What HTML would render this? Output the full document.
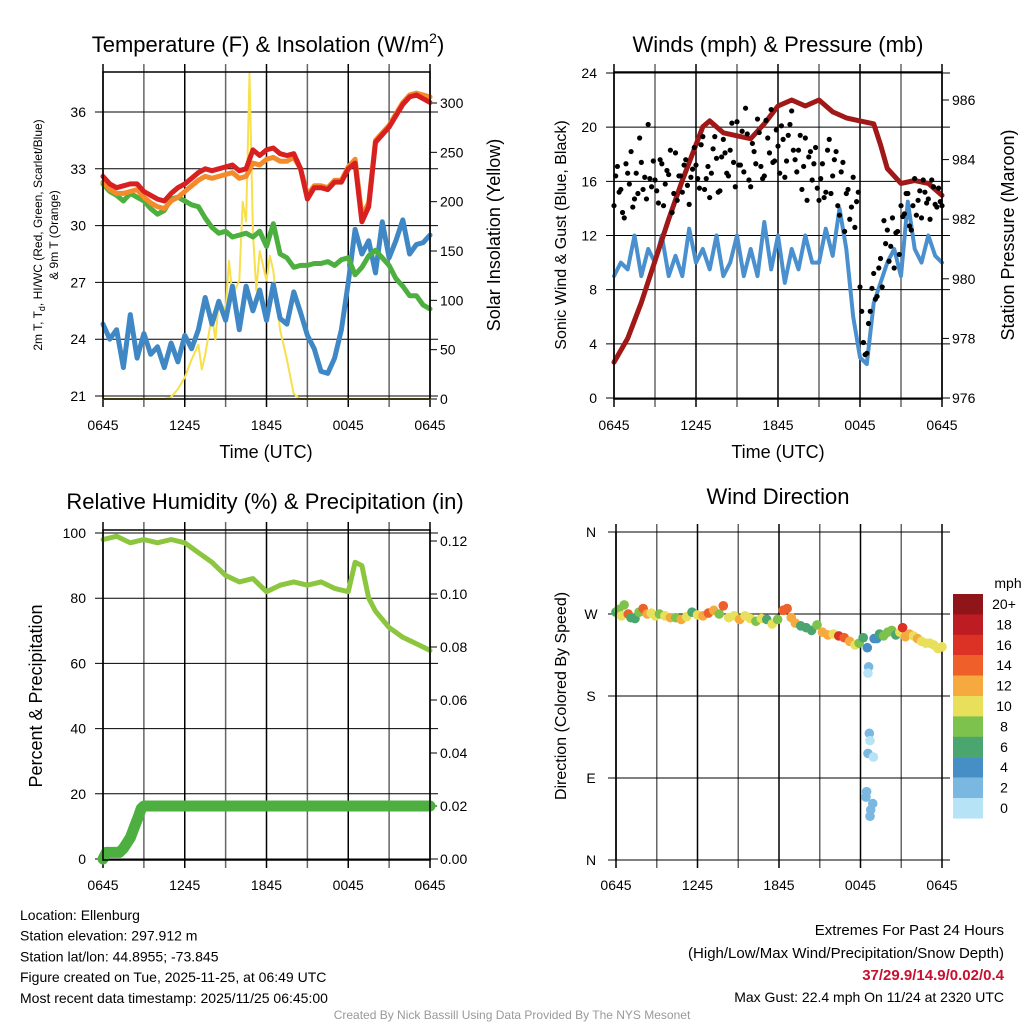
<!DOCTYPE html>
<html><head><meta charset="utf-8"><style>
html,body{margin:0;padding:0;background:#fff;width:1024px;height:1024px;overflow:hidden}
svg{font-family:"Liberation Sans",sans-serif}
</style></head><body>
<svg id="c" width="1024" height="1024" xmlns="http://www.w3.org/2000/svg"></svg>
<script>
// ---------- DATA ----------
const timeLabels = ["0645","1245","1845","0045","0645"];
const halfHours = [0,0.5,1,1.5,2,2.5,3,3.5,4,4.5,5,5.5,6,6.5,7,7.5,8,8.5,9,9.5,10,10.5,11,11.5,12,12.5,13,13.5,14,14.5,15,15.5,16,16.5,17,17.5,18,18.5,19,19.5,20,20.5,21,21.5,22,22.5,23,23.5,24];
const tempRed = [32.6,32.2,32.0,32.1,32.2,32.2,31.8,31.6,31.4,31.3,31.7,32.0,32.2,32.5,32.8,33.0,32.9,33.0,33.1,33.2,32.9,33.0,34.0,33.7,34.0,34.1,33.8,33.7,33.8,33.0,31.4,32.0,32.0,31.9,32.3,32.3,33.0,33.3,30.2,31.0,34.4,34.8,35.2,35.8,36.4,36.8,36.9,36.7,36.5];
const temp9m = [32.3,31.9,31.7,31.7,31.8,31.9,31.5,31.2,31.0,30.9,31.3,31.5,31.8,32.1,32.4,32.6,32.5,32.6,32.7,32.8,32.5,32.6,33.3,33.2,33.5,33.6,33.4,33.4,33.6,33.0,31.6,32.1,32.1,32.0,32.4,32.4,33.1,33.5,30.5,31.2,34.5,34.9,35.3,35.9,36.5,36.9,37.0,36.9,36.8];
const heatIndex = [32.2,31.8,31.6,31.3,31.7,31.5,31.3,30.9,30.6,30.8,31.4,31.5,31.3,31.1,31.0,30.4,29.9,29.6,29.7,29.4,29.5,29.6,29.4,29.7,28.9,30.1,28.5,28.3,27.8,27.9,27.9,28.0,28.0,28.1,27.9,28.2,28.3,27.4,27.8,28.4,28.7,28.3,27.9,27.2,26.8,26.3,26.3,25.8,25.6];
const dewpoint = [24.8,24.0,24.5,22.5,25.3,23.0,24.3,23.2,23.6,22.5,23.8,22.8,24.2,23.5,24.5,26.2,24.8,26.0,25.0,26.8,24.5,26.8,25.5,26.6,25.0,26.9,25.1,24.8,26.5,25.4,24.2,23.5,22.3,22.2,23.0,24.5,27.0,29.8,28.5,29.2,27.5,30.2,28.3,29.2,30.3,28.5,29.0,29.1,29.5];
const solarTimes = [0,4.5,5,5.5,6,6.5,7,7.25,7.5,8,8.25,8.5,9,9.25,9.5,10,10.25,10.5,10.75,11,11.25,11.5,12,12.25,12.5,13,13.5,14,14.5,24];
const solarVals  = [0,0,2,10,22,40,55,30,45,85,60,100,90,140,105,120,200,180,330,170,110,150,120,145,130,70,40,5,0,0];
const pressTimes = [0,1,2,3,4,5,6,6.5,7,8,9,10,11,12,13,14,15,16,17,18,19,19.5,20,21,22,23,24];
const pressVals  = [977.2,978.0,979.2,980.6,982.0,983.3,984.5,985.1,985.3,984.9,984.8,984.7,985.2,985.8,986.0,985.8,986.0,985.6,985.4,985.3,985.2,984.5,983.7,983.2,983.3,983.2,982.8];
const windSpeed = [9,10,9.5,12,9,11,10,12,9,10.5,9,12.5,10,11,9.5,12,9,10,12,9,11,9,13,9.5,12,8.5,11,9.5,12,10,10,12.5,10.5,14,11,6,3,2.5,7,8.5,10,11,9,14.5,11,10,12,10.5,10];
const gustA = [14.2,17.1,15.4,13.3,16.6,18.2,14.7,15.1,17.4,16.3,20.2,15.6,16.1,14.4,17.3,15.8,16.5,13.7,18.1,16.4,15.2,17.6,14.3,16.9,17.2,15.5,19.3,16.2,14.8,18.4,17.7,15.3,19.1,16.6,18.3,17.4,20.4,17.2,16.7,19.5,15.6,18.2,20.6,17.1,16.4,19.2,21.3,17.5,18.6,20.1,16.3,19.4,21.2,17.6,18.3,15.4,19.2,17.8,16.1,18.5,14.6,17.3,15.2,19.1,16.4,18.2,13.5,17.4,15.1,13.2,16.3,14.5,8.2,4.1,3.3,6.4,9.2,7.5,10.3,13.1,12.4,11.2,9.6,12.3,14.2,13.6,15.1,12.4,16.2,14.6,13.3,15.2,14.7,16.1,14.3,15.5,14.2];
const gustB = [16.4,15.2,13.7,17.3,15.8,14.1,16.6,19.2,15.4,14.7,16.2,17.5,15.3,17.6,14.2,16.8,18.3,15.1,14.6,16.4,17.2,15.7,16.3,18.5,16.2,18.7,15.4,17.1,16.6,19.3,15.2,17.8,18.1,16.4,20.3,15.6,17.2,19.7,21.4,16.1,18.8,17.3,19.6,16.2,20.5,18.1,17.4,19.8,16.6,19.1,17.5,20.2,18.3,16.7,19.4,17.1,14.6,18.2,17.3,15.5,16.2,14.8,18.3,15.1,17.6,14.2,16.7,12.3,15.4,14.1,12.6,15.2,6.4,3.2,5.5,8.1,7.3,9.6,8.2,11.4,10.1,13.3,12.2,10.6,13.4,15.1,12.7,14.2,13.5,15.3,16.1,14.4,13.2,15.6,14.1,14.5];
const rhTimes = [0,1,2,3,4,5,6,7,8,9,10,11,12,13,14,15,16,17,18,18.5,19,19.5,20,21,22,23,24];
const rhVals  = [98,99,97,98,97,98,97,94,91,87,85,86,82,84,85,84,85,83,82,91,90,80,76,71,68,66,64];
const precipTimes = [0,0.25,1.2,1.5,2,2.3,2.6,2.8,3.0,24];
const precipVals  = [0,0.0025,0.0025,0.004,0.008,0.012,0.016,0.019,0.02,0.02];
const dirTimes  = [0,0.2,0.4,0.6,0.9,1.1,1.4,1.7,2.0,2.3,2.6,2.9,3.2,3.6,4.0,4.4,4.8,5.2,5.6,6.0,6.4,6.8,7.2,7.6,7.9,8.3,8.7,9.1,9.5,9.9,10.3,10.7,11.1,11.5,11.9,12.3,12.6,12.9,13.2,13.6,14.0,14.4,14.8,15.2,15.6,16.0,16.4,16.8,17.2,17.6,17.9,18.2,18.5,18.6,18.55,18.65,18.7,18.55,18.95,18.45,18.4,18.9,18.75,18.7,19.0,19.2,19.4,19.7,20.0,20.3,20.6,20.9,21.1,21.3,21.6,21.9,22.2,22.5,22.8,23.1,23.4,23.7,24.0];
const dirVals   = [272,275,268,280,270,266,265,272,276,270,271,268,270,268,266,266,264,267,272,269,268,271,274,270,279,266,268,264,268,265,262,265,264,259,264,274,276,266,260,257,255,252,258,250,247,248,246,244,240,236,238,244,233,212,205,139,131,117,113,75,69,62,55,48,243,243,248,246,250,252,247,250,255,245,248,246,243,240,238,238,236,232,234];
const dirSpeeds = [7,8,10,9,14,7,7,8,14,12,10,10,9,10,12,8,12,10,6,10,12,14,12,8,14,10,11,12,10,10,8,10,7,10,9,14,15,12,12,7,6,6,8,12,12,10,16,14,12,10,8,6,4,3,1,2,1,2,1,2,2,2,2,2,4,4,6,8,8,9,7,10,16,12,12,10,12,10,10,10,10,10,11];
const speedLabels = ["20+","18","16","14","12","10","8","6","4","2","0"];
const speedColors = ["#8f1518","#bd1c22","#dc3226","#ef5f29","#f6a93f","#e8e05a","#7cc24c","#4aa66e","#468fc6","#7ab8e2","#b7e3f6"];

// ---------- HELPERS ----------
const svg = document.getElementById('c');
const NS = 'http://www.w3.org/2000/svg';
function mk(tag, attrs, parent){ const e=document.createElementNS(NS,tag); for(const k in attrs) e.setAttribute(k,attrs[k]); (parent||svg).appendChild(e); return e; }
function txt(x,y,s,size,anchor,extra){ const e=mk('text',Object.assign({x:x,y:y,'font-size':size,'text-anchor':anchor||'middle',fill:'#000'},extra||{})); e.textContent=s; return e; }
function lin(d0,d1,r0,r1){ return v => r0 + (v-d0)*(r1-r0)/(d1-d0); }
function pathD(xs,ys,fx,fy){ return xs.map((t,i)=>(i?'L':'M')+fx(t).toFixed(1)+','+fy(ys[i]).toFixed(1)).join(''); }

function frame(L,R,T,B,name){
  const g = mk('g',{});
  
  
  for(let h=0;h<=24;h+=3){
    const x = L + h*(R-L)/24;
    mk('line',{x1:x,y1:T-8,x2:x,y2:B+8,stroke:(h%6===0?'#000':'#666'),'stroke-width':1.5},g);
  }
  return g;
}
function hgrid(L,R,y,g){ mk('line',{x1:L-8,y1:y,x2:R+8,y2:y,stroke:'#000','stroke-width':1},g); }
function box(L,R,T,B,name){ const r=mk('rect',{x:L,y:T,width:R-L,height:B-T,fill:'none',stroke:'#000','stroke-width':1.5});
  
   }
function xlabels(L,R,y){ timeLabels.forEach((s,i)=>{ const t=txt(L+i*(R-L)/4,y,s,14);
  
   }); }
function rot(x,y,s,size,name){ const t=txt(x,y,s,size,'middle',{transform:'rotate(-90 '+x+' '+y+')'});
  
   return t; }
function line(d,color,w,name){ const p=mk('path',{d:d,fill:'none',stroke:color,'stroke-width':w,'stroke-linejoin':'round','stroke-linecap':'round'});
  
   return p; }

// ---------- PANEL 1: Temperature ----------
{
  const L=103,R=430,T=72,B=399;
  const fx = lin(0,24,L,R), fy = lin(21,36,396,112), fs = lin(0,300,399,103);
  const g = frame(L,R,T,B,'temperature');
  [21,24,27,30,33,36].forEach(v=>{ hgrid(L,R,fy(v),g); const t=txt(86,fy(v)+5,String(v),14,'end');
    
     });
  [0,50,100,150,200,250,300].forEach(v=>{ mk('line',{x1:R,y1:fs(v),x2:R+7,y2:fs(v),stroke:'#000'}); const t=txt(440,fs(v)+5,String(v),14,'start');
    
     });
  line(pathD(solarTimes,solarVals,fx,fs),'#f7e04b',2,'solar-insolation-line');
  line(pathD(halfHours,dewpoint,fx,fy),'#3f88c5',5,'dewpoint-line');
  line(pathD(halfHours,heatIndex,fx,fy),'#4caf3f',5,'heat-index-line');
  line(pathD(halfHours,temp9m,fx,fy),'#f58a2b',5,'temp-9m-line');
  line(pathD(halfHours,tempRed,fx,fy),'#d92020',5,'temp-2m-line');
  box(L,R,T,B,'temperature');
  xlabels(L,R,430);
  const tt=txt(268,52,'Temperature (F) & Insolation (W/m',22); const sp=mk('tspan',{dy:-9,'font-size':14},tt); sp.textContent='2'; const sp2=mk('tspan',{dy:9},tt); sp2.textContent=')';
  
  
  const xt=txt(266,458,'Time (UTC)',18);
  
  
  const yt=rot(42,235,'2m T, T',12,'temperature-y-title');
  const sb=mk('tspan',{dy:3,'font-size':9},yt); sb.textContent='d';
  const sr=mk('tspan',{dy:-3},yt); sr.textContent=', HI/WC (Red, Green, Scarlet/Blue)';
  rot(58,235,'& 9m T (Orange)',12,'temperature-y-title-2');
  rot(500,235,'Solar Insolation (Yellow)',18,'solar-y-title');
}

// ---------- PANEL 2: Winds ----------
{
  const L=614,R=942,T=72,B=399;
  const fx = lin(0,24,L,R), fy = lin(0,24,398,73), fp = lin(976,986,398,100);
  const g = frame(L,R,T,B,'winds');
  [0,4,8,12,16,20,24].forEach(v=>{ hgrid(L,R,fy(v),g); const t=txt(597,fy(v)+5,String(v),14,'end');
    
     });
  [976,978,980,982,984,986].forEach(v=>{ mk('line',{x1:R,y1:fp(v),x2:R+7,y2:fp(v),stroke:'#000'}); const t=txt(952,fp(v)+5,String(v),14,'start');
    
     });
  line(pathD(halfHours,windSpeed,fx,fy),'#4a90cf',4,'wind-speed-line');
  line(pathD(pressTimes,pressVals,fx,fp),'#a01818',5,'pressure-line');
  gustA.forEach((v,i)=>{ const c=mk('circle',{cx:fx(i*0.25),cy:fy(v),r:2.6,fill:'#000'});
    
     });
  gustB.forEach((v,i)=>{ const c=mk('circle',{cx:fx(i*0.25+0.125),cy:fy(v),r:2.6,fill:'#000'});
    
     });
  box(L,R,T,B,'winds');
  xlabels(L,R,430);
  const tt=txt(778,52,'Winds (mph) & Pressure (mb)',22);
  
  
  const xt=txt(778,458,'Time (UTC)',18);
  
  
  rot(566,235,'Sonic Wind & Gust (Blue, Black)',16,'wind-y-title');
  rot(1014,235,'Station Pressure (Maroon)',18,'pressure-y-title');
}

// ---------- PANEL 3: RH ----------
{
  const L=103,R=430,T=530,B=860;
  const fx = lin(0,24,L,R), fy = lin(0,100,859,533), fp = lin(0,0.12,859,541);
  const g = frame(L,R,T,B,'humidity');
  [0,20,40,60,80,100].forEach(v=>{ hgrid(L,R,fy(v),g); const t=txt(86,fy(v)+5,String(v),14,'end');
    
     });
  [0,0.02,0.04,0.06,0.08,0.10,0.12].forEach(v=>{ mk('line',{x1:R,y1:fp(v),x2:R+7,y2:fp(v),stroke:'#000'}); const t=txt(440,fp(v)+5,v.toFixed(2),14,'start');
    
     });
  line(pathD(rhTimes,rhVals,fx,fy),'#8cc63f',5,'rh-line');
  line(pathD(precipTimes,precipVals,fx,fp),'#4caf3f',11,'precip-line');
  box(L,R,T,B,'humidity');
  xlabels(L,R,890);
  const tt=txt(265,509,'Relative Humidity (%) & Precipitation (in)',22);
  
  
  rot(42,696,'Percent & Precipitation',18,'humidity-y-title');
}

// ---------- PANEL 4: Wind direction ----------
{
  const L=616,R=942,T=532,B=860;
  const fx = lin(0,24,L,R), fy = lin(0,360,860,532);
  const g = frame(L,R,T,B,'direction');
  ['N','E','S','W','N'].forEach((s,i)=>{ const y=fy(i*90); mk('line',{x1:L-8,y1:y,x2:R+8,y2:y,stroke:'#000'},g); const t=txt(591,y+5,s,14,'middle');
    
     });
  dirTimes.forEach((t,i)=>{ const bin=Math.min(10,Math.floor(dirSpeeds[i]/2)); const c=mk('circle',{cx:fx(t),cy:fy(dirVals[i]),r:4.8,fill:speedColors[10-bin]});
    
     });
  mk('line',{x1:L,y1:T,x2:L,y2:B,stroke:'#000','stroke-width':1.5});
  xlabels(L,R,890);
  const tt=txt(778,504,'Wind Direction',22);
  
  
  rot(566,696,'Direction (Colored By Speed)',16,'direction-y-title');
  const lg = mk('g',{});
  
  
  const mt=txt(1008,588,'mph',14,'middle',{}); lg.appendChild(mt);
  speedLabels.forEach((s,i)=>{ const y=594+i*20.4; mk('rect',{x:953,y:y,width:30,height:20.6,fill:speedColors[i]},lg); const t=txt(1004,y+15,s,14,'middle'); lg.appendChild(t); });
}

// ---------- FOOTER ----------
{
  const left=['Location: Ellenburg','Station elevation: 297.912 m','Station lat/lon: 44.8955; -73.845','Figure created on Tue, 2025-11-25, at 06:49 UTC','Most recent data timestamp: 2025/11/25 06:45:00'];
  left.forEach((s,i)=>{ const t=txt(20,920+i*20.7,s,14,'start');
    
     });
  const a=txt(1004,935,'Extremes For Past 24 Hours',15,'end');
  
  
  const b=txt(1004,958,'(High/Low/Max Wind/Precipitation/Snow Depth)',15,'end');
  
  
  const c=txt(1004,980,'37/29.9/14.9/0.02/0.4',15,'end',{fill:'#c8102e','font-weight':'bold'});
  
  
  const d=txt(1004,1002,'Max Gust: 22.4 mph On 11/24 at 2320 UTC',14,'end');
  
  
  const e=txt(512,1019,'Created By Nick Bassill Using Data Provided By The NYS Mesonet',12,'middle',{fill:'#999'});
  
  
}
</script>
</body></html>
